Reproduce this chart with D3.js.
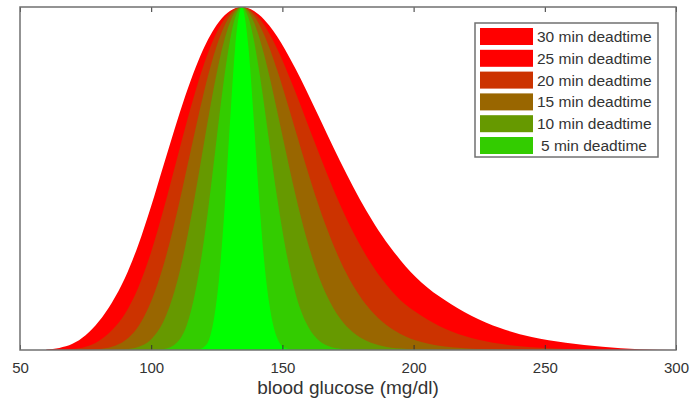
<!DOCTYPE html>
<html>
<head>
<meta charset="utf-8">
<script src="https://cdn.jsdelivr.net/npm/d3@7"></script>
<style>
  html, body { margin: 0; padding: 0; background: #ffffff; }
  svg { display: block; font-family: "Liberation Sans", Arial, sans-serif; }
</style>
</head>
<body>
<svg id="chart" width="697" height="407"></svg>
<script>
// blood glucose grid (mg/dl)
const glucose = [60,65,70,75,80,85,90,95,100,105,110,114,118,121,124,126,128,130,132,134.5,
  137,139,141,143,145,148,151,155,159,163,167,172,177,182,188,195,203,212,222,233,245,258,272,286,300];

// relative density for each deadtime (peak = 1)
const dead30 = [0.0015,0.006,0.018,0.043,0.083,0.138,0.2100,0.3050,0.4199,0.5458,0.6707,0.7632,0.8443,0.8953,0.9368,0.9588,0.9760,0.9886,0.9965,1,
  0.9967,0.9894,0.9782,0.9637,0.9458,0.9137,0.8762,0.8199,0.7585,0.6944,0.6297,0.5503,0.4751,0.4060,0.3330,0.2620,0.1970,0.1450,0.1000,0.0640,0.0380,0.0210,0.0095,0.0020,0];
const dead25 = [0.0001,0.0006,0.0026,0.0095,0.0265,0.0575,0.1060,0.1810,0.2866,0.4181,0.5626,0.6777,0.7838,0.8528,0.9103,0.9412,0.9656,0.9836,0.9950,1,
  0.9952,0.9847,0.9688,0.9481,0.9229,0.8781,0.8266,0.7513,0.6716,0.5915,0.5138,0.4232,0.3430,0.2740,0.2060,0.1450,0.1000,0.0620,0.0350,0.0180,0.0080,0.0030,0.0010,0.0002,0];
const dead20 = [0,0,0.0001,0.0005,0.0025,0.0093,0.0277,0.0680,0.1419,0.2560,0.4070,0.5444,0.6833,0.7798,0.8634,0.9096,0.9468,0.9745,0.9922,1,
  0.9925,0.9762,0.9517,0.9201,0.8822,0.8162,0.7427,0.6397,0.5369,0.4402,0.3532,0.2609,0.1875,0.1310,0.0828,0.0466,0.0232,0.0100,0.0038,0.0012,0.0003,0.0001,0,0,0];
const dead15 = [0,0,0,0,0,0.0002,0.0017,0.0084,0.0311,0.0887,0.2023,0.3393,0.5082,0.6426,0.7702,0.8450,0.9074,0.9551,0.9861,1,
  0.9867,0.9581,0.9157,0.8624,0.8003,0.6969,0.5893,0.4519,0.3310,0.2325,0.1572,0.0917,0.0509,0.0270,0.0119,0.0043,0.0012,0.0003,0,0,0,0,0,0,0];
const dead10 = [0,0,0,0,0,0,0,0,0.0003,0.0030,0.0230,0.0830,0.2181,0.3697,0.5557,0.6846,0.8036,0.9018,0.9691,1,
  0.9703,0.9083,0.8204,0.7168,0.6058,0.4438,0.3042,0.1650,0.0800,0.0340,0.0130,0.0035,0.0008,0.0002,0,0,0,0,0,0,0,0,0,0,0];
const dead5 = [0,0,0,0,0,0,0,0,0,0,0,0,0.0012,0.0150,0.0954,0.2196,0.4170,0.6614,0.8819,1,
  0.8866,0.6806,0.4529,0.2639,0.1347,0.0350,0.0060,0.0004,0,0,0,0,0,0,0,0,0,0,0,0,0,0,0,0,0];

const seriesValues = [dead30, dead25, dead20, dead15, dead10, dead5];
const seriesColors = ["#ff0000", "#cc3300", "#996600", "#669900", "#33cc00", "#00ff00"];

const legendLabels = ["30 min deadtime", "25 min deadtime", "20 min deadtime", "15 min deadtime", "10 min deadtime", "5 min deadtime"];
const legendColors = ["#ff0000", "#ff0000", "#cc3300", "#996600", "#669900", "#33cc00"];

const xTicks = [50, 100, 150, 200, 250, 300];
const xLabel = "blood glucose (mg/dl)";

(function () {
  const svg = d3.select("#chart");
  const pLeft = 20, pRight = 676, pTop = 7, pBottom = 350;

  const x = d3.scaleLinear().domain([50, 300]).range([pLeft, pRight]);
  const y = d3.scaleLinear().domain([0, 1]).range([pBottom, pTop]);

  svg.append("defs").append("clipPath").attr("id", "plotclip")
    .append("rect").attr("x", pLeft).attr("y", pTop).attr("width", pRight - pLeft).attr("height", pBottom - pTop);

  const area = d3.area()
    .x(d => x(d[0]))
    .y0(y(0))
    .y1(d => y(d[1]))
    .curve(d3.curveMonotoneX);

  const g = svg.append("g").attr("clip-path", "url(#plotclip)");
  seriesValues.forEach((vals, i) => {
    const pts = glucose.map((gv, j) => [gv, vals[j]]);
    g.append("path").attr("d", area(pts)).attr("fill", seriesColors[i]).attr("stroke", "none");
  });

  const axisColor = "#707070";
  const bAxis = svg.append("g").attr("transform", `translate(0,${pBottom})`)
    .call(d3.axisBottom(x).tickValues(xTicks).tickSizeInner(-5).tickSizeOuter(0).tickPadding(12));
  bAxis.select(".domain").remove();
  bAxis.selectAll(".tick line").attr("stroke", "#333").attr("stroke-width", 1);
  bAxis.selectAll(".tick text")
    .attr("fill", "#333")
    .style("font-size", "15px")
    .style("font-family", "'Liberation Sans', Arial, sans-serif");

  const tAxis = svg.append("g").attr("transform", `translate(0,${pTop})`)
    .call(d3.axisTop(x).tickValues(xTicks).tickSizeInner(-5).tickSizeOuter(0).tickFormat(""));
  tAxis.select(".domain").remove();
  tAxis.selectAll(".tick line").attr("stroke", "#333").attr("stroke-width", 1);

  svg.append("rect")
    .attr("x", pLeft).attr("y", pTop).attr("width", pRight - pLeft).attr("height", pBottom - pTop)
    .attr("fill", "none").attr("stroke", axisColor).attr("stroke-width", 1.5);

  svg.append("text")
    .attr("x", (pLeft + pRight) / 2).attr("y", 394)
    .attr("text-anchor", "middle")
    .attr("fill", "#333")
    .style("font-size", "19px")
    .text(xLabel);

  const lg = svg.append("g");
  lg.append("rect").attr("x", 475).attr("y", 23).attr("width", 183).attr("height", 134)
    .attr("fill", "#ffffff").attr("stroke", axisColor).attr("stroke-width", 1.5);
  legendLabels.forEach((lab, i) => {
    const cy = 36.5 + i * 21.8;
    lg.append("rect").attr("x", 480).attr("y", cy - 8.5).attr("width", 53).attr("height", 17)
      .attr("fill", legendColors[i]);
    lg.append("text").attr("x", i === 5 ? 541 : 537).attr("y", cy + 5.5)
      .attr("fill", "#333").style("font-size", "15.5px").text(lab);
  });
})();
</script>
</body>
</html>
